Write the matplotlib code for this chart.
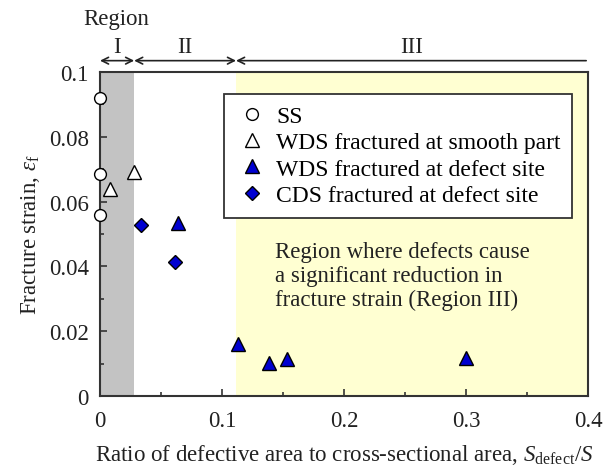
import matplotlib.pyplot as plt
from matplotlib.ticker import MultipleLocator

plt.rcParams['font.family'] = ['Liberation Serif', 'DejaVu Serif']
plt.rcParams['mathtext.fontset'] = 'custom'
plt.rcParams['mathtext.rm'] = 'Liberation Serif'
plt.rcParams['mathtext.it'] = 'Liberation Serif:italic'

# data
ss_x = [0.0, 0.0, 0.0]
ss_y = [0.0920, 0.0685, 0.0560]
wds_smooth_x = [0.008, 0.028]
wds_smooth_y = [0.0640, 0.0690]
wds_defect_x = [0.0637, 0.113, 0.1385, 0.153, 0.2997]
wds_defect_y = [0.0534, 0.0162, 0.0102, 0.0114, 0.0118]
cds_defect_x = [0.034, 0.0615]
cds_defect_y = [0.0528, 0.0413]

x_ticks = [0, 0.1, 0.2, 0.3, 0.4]
x_ticklabels = ['0', '0.1', '0.2', '0.3', '0.4']
y_ticks = [0, 0.02, 0.04, 0.06, 0.08, 0.1]
y_ticklabels = ['0', '0.02', '0.04', '0.06', '0.08', '0.1']

region_edges = [0.0, 0.028, 0.1115, 0.4]
region_names = ['I', 'II', 'III']

fs = 16.5

fig = plt.figure(figsize=(6.05, 4.77), dpi=100)
ax = fig.add_axes([100 / 605, 80 / 477, 488 / 605, 324 / 477])

ax.axvspan(region_edges[0], region_edges[1], color='#c3c3c3', lw=0, zorder=0)
ax.axvspan(region_edges[2], region_edges[3], color='#ffffd2', lw=0, zorder=0)

blue = '#0000d0'
ax.plot(ss_x, ss_y, 'o', ms=8.5, mfc='white', mec='black', mew=1.0, clip_on=False,
        label='SS', zorder=5)
ax.plot(wds_smooth_x, wds_smooth_y, '^', ms=9.5, mfc='white', mec='black', mew=1.0,
        clip_on=False, label='WDS fractured at smooth part', zorder=5)
ax.plot(wds_defect_x, wds_defect_y, '^', ms=9.5, mfc=blue, mec='black', mew=1.0,
        label='WDS fractured at defect site', zorder=5)
ax.plot(cds_defect_x, cds_defect_y, 'D', ms=7.5, mfc=blue, mec='black', mew=1.0,
        label='CDS fractured at defect site', zorder=5)

ax.set_xlim(0, 0.4)
ax.set_ylim(0, 0.1)
ax.set_xticks(x_ticks)
ax.set_xticklabels(x_ticklabels)
ax.set_yticks(y_ticks)
ax.set_yticklabels(y_ticklabels)
ax.xaxis.set_minor_locator(MultipleLocator(0.05))
ax.yaxis.set_minor_locator(MultipleLocator(0.01))
ax.tick_params(which='both', direction='in', top=False, right=False,
               labelsize=fs, width=1.2, colors='#333333', labelcolor='#222222')
ax.tick_params(which='major', length=5)
ax.tick_params(which='minor', length=3)
ax.tick_params(axis='x', which='major', pad=10)
ax.tick_params(axis='y', which='major', pad=8)
for sp in ax.spines.values():
    sp.set_linewidth(1.5)
    sp.set_color('#333333')

ax.set_xlabel(r'Ratio of defective area to cross-sectional area, $S_\mathrm{defect}/S$',
              fontsize=fs, color='#222222', labelpad=8)
ax.set_ylabel(r'Fracture strain, $\varepsilon_\mathrm{f}$', fontsize=fs,
              color='#222222', labelpad=5)

leg = ax.legend(loc='upper left', bbox_to_anchor=(0.254, 0.933), fontsize=17,
                frameon=True, fancybox=False, edgecolor='#333333', borderpad=0.5,
                handletextpad=0.3, labelspacing=0.2, handlelength=1.4,
                borderaxespad=0)
leg.get_frame().set_linewidth(1.3)
leg.get_frame().set_facecolor('white')
leg.get_frame().set_alpha(1)

ax.text(0.1435, 0.0478,
        'Region where defects cause\na significant reduction in\nfracture strain (Region III)',
        fontsize=fs, color='#222222', va='top', ha='left', linespacing=1.18)

# region arrows above the axes
arrow_y = 0.1035
for i, name in enumerate(region_names):
    x0, x1 = region_edges[i], region_edges[i + 1]
    ax.annotate('', xy=(x0, arrow_y), xytext=(x1 - (0.0015 if i == 2 else 0), arrow_y),
                xycoords='data', annotation_clip=False,
                arrowprops=dict(arrowstyle='<->' if i < 2 else '->', lw=1.2,
                                color='#222222', shrinkA=0, shrinkB=0,
                                mutation_scale=12))
    ax.text((x0 + x1) / 2, 0.1046, name, fontsize=fs, ha='center', va='bottom',
            color='#222222', clip_on=False)
ax.text(0.013, 0.1132, 'Region', fontsize=fs, ha='center', va='bottom',
        color='#222222', clip_on=False)

fig.savefig('out.png', dpi=100)
